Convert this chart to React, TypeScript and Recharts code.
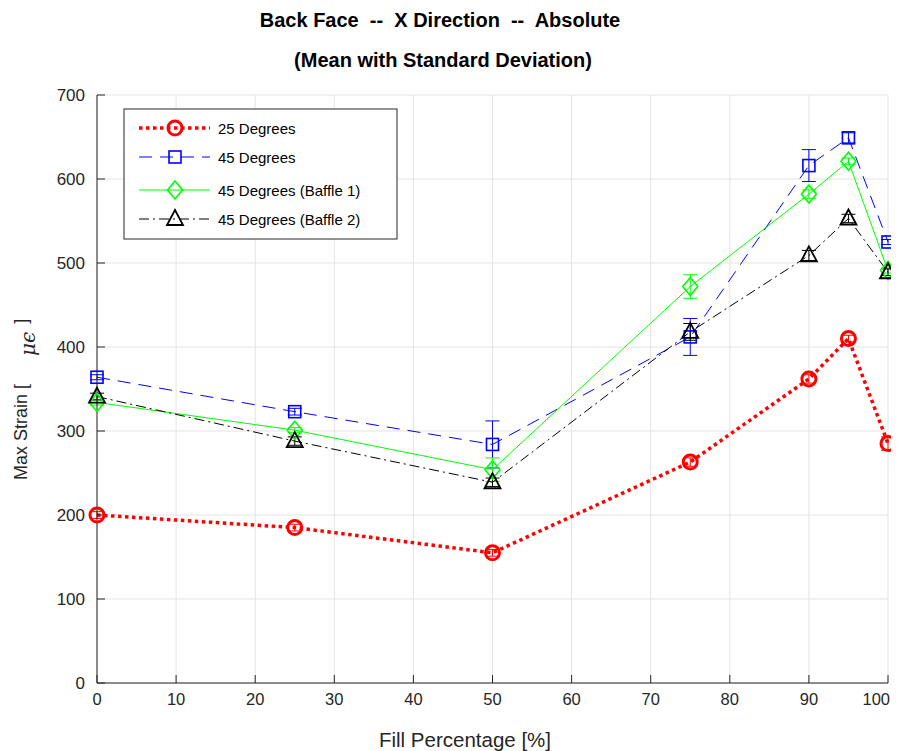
import React from 'react';
import { LineChart, Line, XAxis, YAxis, CartesianGrid, ErrorBar } from 'recharts';

const fillPct = [0, 25, 50, 75, 90, 95, 100];
const deg25 = [200, 185, 155, 263, 362, 410, 285];
const deg25Err = [4, 4, 4, 5, 5, 4, 8];
const deg45 = [364, 323, 284, 412, 616, 649, 525];
const deg45Err = [3, 4, 28, 22, 19, 6, 3];
const baffle1 = [334, 301, 254, 472, 582, 621, 491];
const baffle1Err = [3, 3, 14, 14, 5, 4, 3];
const baffle2 = [341, 288, 239, 418, 509, 553, 489];
const baffle2Err = [4, 5, 5, 10, 6, 5, 4];

const xTicks = [0, 10, 20, 30, 40, 50, 60, 70, 80, 90, 100];
const yTicks = [0, 100, 200, 300, 400, 500, 600, 700];

const seriesNames = ['25 Degrees', '45 Degrees', '45 Degrees (Baffle 1)', '45 Degrees (Baffle 2)'];

const data = fillPct.map((x, i) => ({
  x,
  d25: deg25[i],
  d25e: deg25Err[i],
  d45: deg45[i],
  d45e: deg45Err[i],
  b1: baffle1[i],
  b1e: baffle1Err[i],
  b2: baffle2[i],
  b2e: baffle2Err[i],
}));

const FONT = '"Liberation Sans", Arial, Helvetica, sans-serif';
const RED = '#ff0000';
const BLUE = '#0000ff';
const GREEN = '#00ff00';
const BLACK = '#000000';

const Circ = ({ cx, cy }: any) => (
  <circle cx={cx} cy={cy} r={7} fill="none" stroke={RED} strokeWidth={3} />
);
const Sq = ({ cx, cy }: any) => (
  <rect x={cx - 6} y={cy - 6} width={12} height={12} fill="none" stroke={BLUE} strokeWidth={1.6} />
);
const Dia = ({ cx, cy }: any) => (
  <polygon
    points={`${cx},${cy - 9} ${cx + 7.5},${cy} ${cx},${cy + 9} ${cx - 7.5},${cy}`}
    fill="none"
    stroke={GREEN}
    strokeWidth={1.6}
  />
);
const Tri = ({ cx, cy }: any) => (
  <polygon
    points={`${cx},${cy - 9} ${cx + 8},${cy + 6} ${cx - 8},${cy + 6}`}
    fill="none"
    stroke={BLACK}
    strokeWidth={1.8}
  />
);

const mk = (C: any) => (p: any) => <C key={p.key ?? `${p.index}`} cx={p.cx} cy={p.cy} />;

const styles = [
  { color: RED, width: 3.5, dash: '3.5 3.5', Marker: Circ },
  { color: BLUE, width: 1, dash: '13 8', Marker: Sq },
  { color: GREEN, width: 1, dash: undefined, Marker: Dia },
  { color: BLACK, width: 1, dash: '10 4 2 4', Marker: Tri },
];

const XTick = (props: any) => {
  const { x, y, payload } = props;
  const last = payload.value === xTicks[xTicks.length - 1];
  return (
    <text
      x={x + (last ? 2 : 0)}
      y={y}
      dy={13}
      textAnchor={last ? 'end' : 'middle'}
      fill="#262626"
      fontSize={16.5}
      fontFamily={FONT}
    >
      {payload.value}
    </text>
  );
};

function Overlay() {
  const rows = [120, 149, 182, 211];
  return (
    <svg
      width={891}
      height={743}
      style={{ position: 'absolute', left: 0, top: 0, pointerEvents: 'none' }}
      fontFamily={FONT}
    >
      <text x={432} y={19} textAnchor="middle" fontSize={20} fontWeight="bold" fill="#000" style={{ whiteSpace: 'pre' }}>
        {'Back Face  --  X Direction  --  Absolute'}
      </text>
      <text x={435} y={59} textAnchor="middle" fontSize={20} fontWeight="bold" fill="#000">
        (Mean with Standard Deviation)
      </text>
      <text x={457} y={739} textAnchor="middle" fontSize={20.5} fill="#262626">
        Fill Percentage [%]
      </text>
      <text transform="translate(19,472) rotate(-90)" fontSize={18} fill="#262626" style={{ whiteSpace: 'pre' }}>
        <tspan>Max Strain [</tspan>
        <tspan dx={28} dy={8} fontStyle="italic" fontSize={20} fontFamily="DejaVu Serif, serif">μϵ</tspan>
        <tspan dx={8} dy={-8}>]</tspan>
      </text>
      <g>
        <rect x={116} y={101} width={273} height={130} fill="#ffffff" stroke="#262626" strokeWidth={1} />
        {seriesNames.map((name, i) => {
          const s = styles[i];
          const y = rows[i];
          const M = s.Marker;
          return (
            <g key={name}>
              <line x1={131} x2={202} y1={y} y2={y} stroke={s.color} strokeWidth={s.width} strokeDasharray={s.dash} />
              <M cx={167} cy={y} />
              <text x={210} y={y + 5.5} fontSize={15} fill="#000">
                {name}
              </text>
            </g>
          );
        })}
      </g>
    </svg>
  );
}

export default function App() {
  const keys = [
    ['d25', 'd25e'],
    ['d45', 'd45e'],
    ['b1', 'b1e'],
    ['b2', 'b2e'],
  ];
  return (
    <div style={{ position: 'relative', width: 891, height: 743, background: '#fff' }}>
      <style>{'html{overflow:hidden;} #root{width:891px;}'}</style>
      <LineChart
        width={891}
        height={743}
        data={data}
        margin={{ top: 87, right: 11, bottom: 8, left: 0 }}
        style={{ fontFamily: FONT }}
      >
        <CartesianGrid stroke="#e3e3e3" strokeWidth={1} />
        <XAxis
          dataKey="x"
          type="number"
          domain={[0, 100]}
          ticks={xTicks}
          interval={0}
          height={60}
          tickSize={-8}
          tickMargin={17}
          stroke="#262626"
          tick={<XTick />}
        />
        <XAxis
          xAxisId="top"
          orientation="top"
          dataKey="x"
          type="number"
          domain={[0, 100]}
          ticks={xTicks}
          interval={0}
          height={0}
          tickSize={-8}
          tick={false}
          stroke="#262626"
        />
        <YAxis
          type="number"
          domain={[0, 700]}
          ticks={yTicks}
          interval={0}
          width={89}
          tickSize={-8}
          tickMargin={20}
          stroke="#262626"
          tick={{ fill: '#262626', fontSize: 17 }}
        />
        <YAxis
          yAxisId="right"
          orientation="right"
          type="number"
          domain={[0, 700]}
          ticks={yTicks}
          interval={0}
          width={0}
          tickSize={-8}
          tick={false}
          stroke="#262626"
        />
        {keys.map(([k, e], i) => {
          const s = styles[i];
          return (
            <Line
              key={k}
              dataKey={k}
              name={seriesNames[i]}
              type="linear"
              stroke={s.color}
              strokeWidth={s.width}
              strokeDasharray={s.dash}
              dot={mk(s.Marker)}
              activeDot={false}
              isAnimationActive={false}
            >
              <ErrorBar dataKey={e} width={7} stroke={s.color} strokeWidth={1} direction="y" />
            </Line>
          );
        })}
      </LineChart>
      <Overlay />
    </div>
  );
}
